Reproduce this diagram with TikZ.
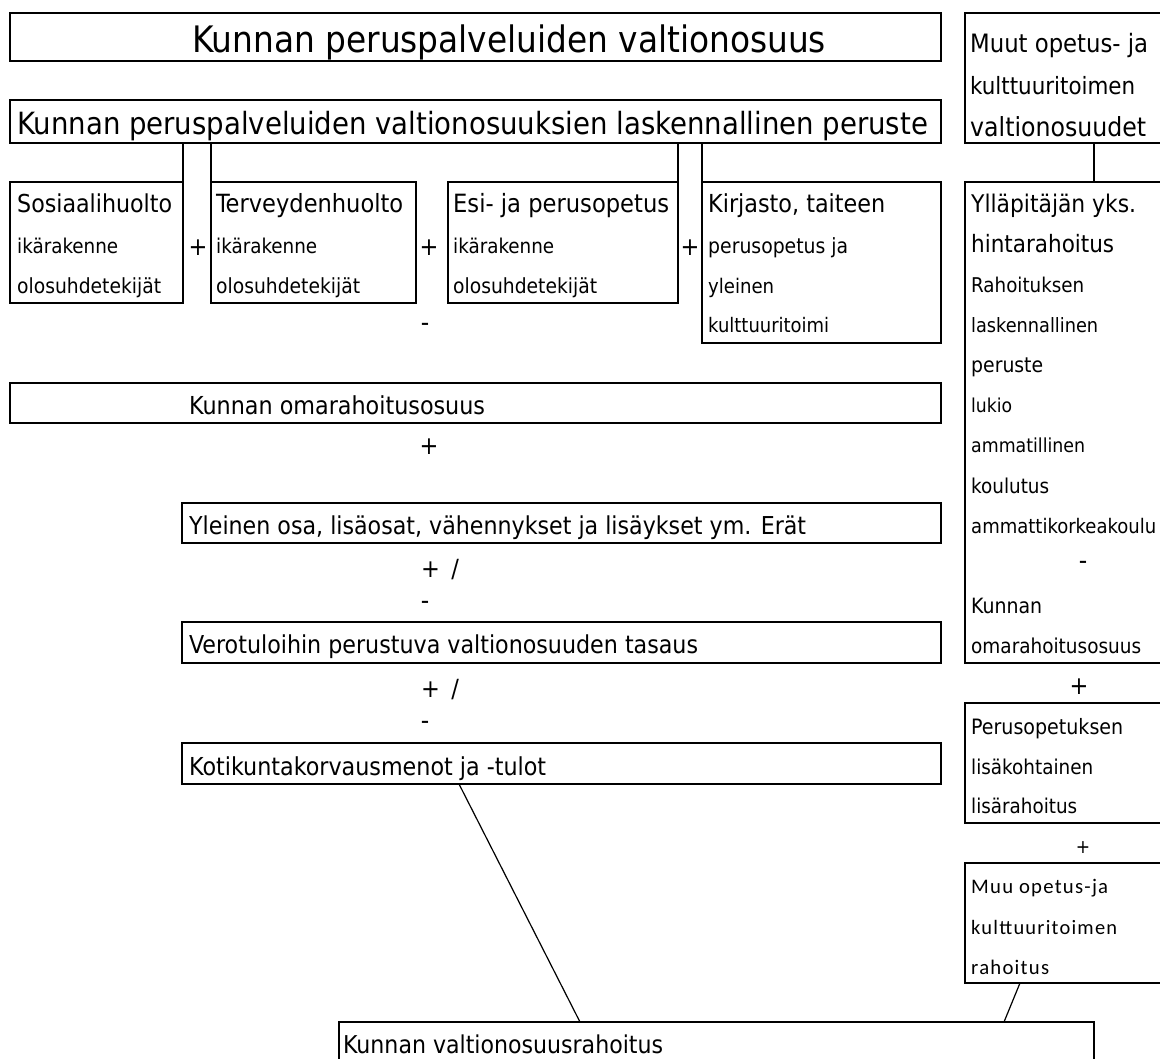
\documentclass[tikz,border=0pt]{standalone}
\usepackage{fontspec}
\setmainfont{DejaVu Sans Condensed}
\newfontfamily\calfont[LetterSpace=6]{Carlito}
\newlength\fitlen
\newcommand\fitw[2]{\settowidth\fitlen{\fontsize{10pt}{12pt}\selectfont #2}\pgfmathsetmacro\fitsz{10*#1/\fitlen}\fontsize{\fitsz pt}{\fitsz pt}\selectfont #2}
\begin{document}
\begin{tikzpicture}[x=1pt,y=-1pt,
  bx/.style 2 args={draw, line width=1.8pt, inner sep=0pt, outer sep=0pt, anchor=north west, minimum width=#1pt, minimum height=#2pt},
  tx/.style={inner sep=0pt, anchor=base west},
  op/.style={inner sep=0pt, anchor=center, font=\fontsize{25pt}{25pt}\selectfont},
  opmi/.style={inner sep=0pt, anchor=center, font=\fontsize{26pt}{26pt}\selectfont},
  opsm/.style={inner sep=0pt, anchor=center, font=\fontsize{19pt}{19pt}\selectfont},
  cn/.style={line width=1.8pt},
  thinln/.style={line width=1.2pt}]
\useasboundingbox (0,0) rectangle (1160,1059);
\clip (0,0) rectangle (1160,1059);
\fill[white] (0,0) rectangle (1160,1059);
% boxes
\node[bx={931}{48}] (t1) at (10,13) {};
\node[bx={931}{43}] (t2) at (10,100) {};
\node[bx={220}{130}] (rtop) at (965,13) {};
\node[bx={173}{121}] (sos) at (10,182) {};
\node[bx={205}{121}] (terv) at (211,182) {};
\node[bx={230}{121}] (esi) at (448,182) {};
\node[bx={239}{161}] (kir) at (702,182) {};
\node[bx={220}{481}] (yll) at (965,182) {};
\node[bx={931}{40}] (oma) at (10,383) {};
\node[bx={759}{40}] (yle) at (182,503) {};
\node[bx={759}{41}] (vero) at (182,622) {};
\node[bx={759}{41}] (koti) at (182,743) {};
\node[bx={220}{120}] (peru) at (965,703) {};
\node[bx={220}{120}] (muu) at (965,863) {};
\node[bx={755}{60}] (bot) at (339,1022) {};
% connectors
\draw[cn] (sos.north east) -- (sos.north east |- t2.south);
\draw[cn] (terv.north west) -- (terv.north west |- t2.south);
\draw[cn] (esi.north east) -- (esi.north east |- t2.south);
\draw[cn] (kir.north west) -- (kir.north west |- t2.south);
\draw[cn] ([xshift=129pt]yll.north west) -- ([xshift=129pt]yll.north west |- rtop.south);
\draw[thinln] ([xshift=277pt]koti.south west) -- ([xshift=241pt]bot.north west);
\draw[thinln] ([xshift=55pt]muu.south west) -- ([xshift=665pt]bot.north west);
% texts
\node[tx] (t1a) at (192,53) {\fitw{634}{Kunnan peruspalveluiden valtionosuus}};
\node[tx] (t2a) at (17,135) {\fitw{911}{Kunnan peruspalveluiden valtionosuuksien laskennallinen peruste}};
\node[tx] (rt1) at (970,53) {\fitw{178}{Muut opetus- ja}};
\node[tx] (rt2) at (970,95) {\fitw{165}{kulttuuritoimen}};
\node[tx] (rt3) at (970,137) {\fitw{176}{valtionosuudet}};
\node[tx] (s1) at (17,213) {\fitw{155}{Sosiaalihuolto}};
\node[tx] (s2) at (17,254) {\fitw{101}{ikärakenne}};
\node[tx] (s3) at (17,294) {\fitw{144}{olosuhdetekijät}};
\node[tx] (te1) at (216,213) {\fitw{187}{Terveydenhuolto}};
\node[tx] (te2) at (216,254) {\fitw{101}{ikärakenne}};
\node[tx] (te3) at (216,294) {\fitw{144}{olosuhdetekijät}};
\node[tx] (e1) at (453,213) {\fitw{216}{Esi- ja perusopetus}};
\node[tx] (e2) at (453,254) {\fitw{101}{ikärakenne}};
\node[tx] (e3) at (453,294) {\fitw{144}{olosuhdetekijät}};
\node[tx] (k1) at (708,213) {\fitw{177}{Kirjasto, taiteen}};
\node[tx] (k2) at (708,254) {\fitw{140}{perusopetus ja}};
\node[tx] (k3) at (708,294) {\fitw{66}{yleinen}};
\node[tx] (k4) at (708,333) {\fitw{121}{kulttuuritoimi}};
\node[tx] (y1) at (971,213) {\fitw{165}{Ylläpitäjän yks.}};
\node[tx] (y2) at (971,253) {\fitw{143}{hintarahoitus}};
\node[tx] (y3) at (971,293) {\fitw{113}{Rahoituksen}};
\node[tx] (y4) at (971,333) {\fitw{127}{laskennallinen}};
\node[tx] (y5) at (971,373) {\fitw{72}{peruste}};
\node[tx] (y6) at (971,413) {\fitw{41}{lukio}};
\node[tx] (y7) at (971,453) {\fitw{114}{ammatillinen}};
\node[tx] (y8) at (971,493) {\fitw{78}{koulutus}};
\node[tx] (y9) at (971,533) {\fitw{185}{ammattikorkeakoulu}};
\node[tx] (y10) at (971,613) {\fitw{71}{Kunnan}};
\node[tx] (y11) at (971,653) {\fitw{170}{omarahoitusosuus}};
\node[tx] (p1) at (971,734) {\fitw{152}{Perusopetuksen}};
\node[tx] (p2) at (971,774) {\fitw{122}{lisäkohtainen}};
\node[tx] (p3) at (971,813) {\fitw{106}{lisärahoitus}};
\node[tx] (m1) at (971,893) {\calfont\fitw{137}{Muu opetus-ja}};
\node[tx] (m2) at (971,934) {\calfont\fitw{146}{kulttuuritoimen}};
\node[tx] (m3) at (971,974) {\calfont\fitw{78}{rahoitus}};
\node[tx] (omaa) at (189,414) {\fitw{296}{Kunnan omarahoitusosuus}};
\node[tx] (ylea) at (189,534) {\fitw{617}{Yleinen osa, lisäosat, vähennykset ja lisäykset ym. Erät}};
\node[tx] (veroa) at (189,653) {\fitw{509}{Verotuloihin perustuva valtionosuuden tasaus}};
\node[tx] (kotia) at (189,775) {\fitw{357}{Kotikuntakorvausmenot ja -tulot}};
\node[tx] (bota) at (343,1053) {\fitw{320}{Kunnan valtionosuusrahoitus}};
% operators
\node[op] (o1) at (198,248) {+};
\node[op] (o2) at (429,248) {+};
\node[op] (o3) at (690,248) {+};
\node[opmi] (o4) at (425,327) {-};
\node[op] (o5) at (429,447) {+};
\node[tx, font=\fontsize{25pt}{25pt}\selectfont] (o6) at (421,577) {+\hspace{0.45em}/};
\node[opmi] (o7) at (425,605) {-};
\node[tx, font=\fontsize{25pt}{25pt}\selectfont] (o8) at (421,697) {+\hspace{0.45em}/};
\node[opmi] (o9) at (425,725) {-};
\node[opmi] (o10) at (1083,565) {-};
\node[op] (o11) at (1079,687) {+};
\node[opsm] (o12) at (1083,848) {+};
\end{tikzpicture}
\end{document}
